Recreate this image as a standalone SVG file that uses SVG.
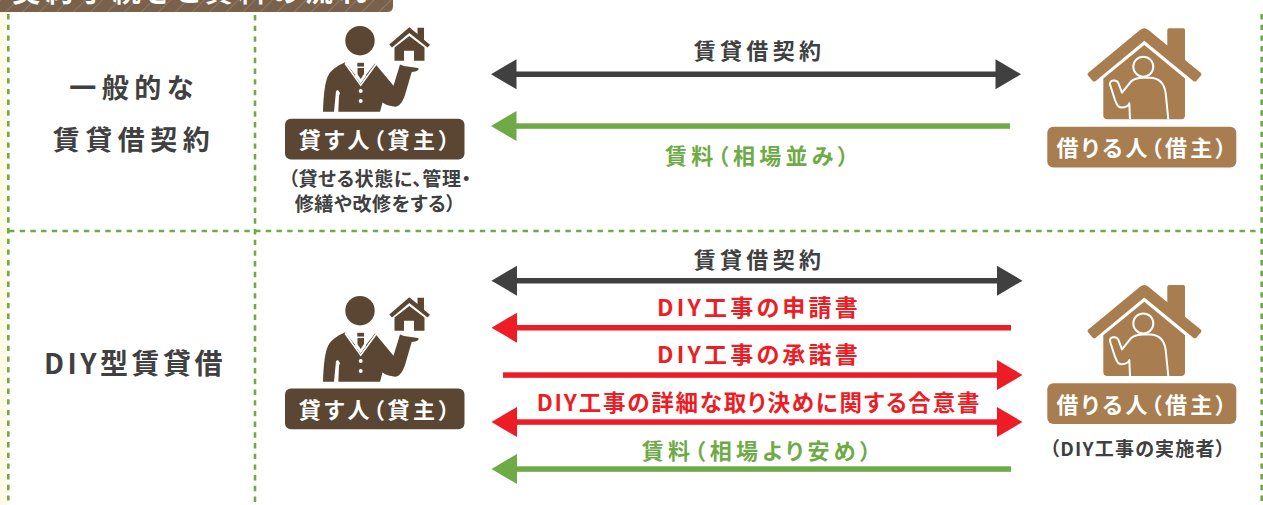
<svg xmlns="http://www.w3.org/2000/svg" width="1263" height="505" viewBox="0 0 1263 505">
<style>
text{font-family:"Noto Sans CJK JP","Noto Sans",sans-serif;font-weight:700;text-anchor:middle;font-feature-settings:"palt"}
.dash{stroke:#6eaa45;stroke-width:2.6;stroke-dasharray:5.4 5.3;fill:none}
.k{fill:#404040}.r{fill:#ee1c25}.g{fill:#6eaa45}.w{fill:#fff}
.t25{font-size:27px;letter-spacing:5.500px}
.t20{font-size:22px;letter-spacing:4.300px}
.t23{font-size:23px;letter-spacing:3.200px}
.t21{font-size:22px;letter-spacing:3.500px}
.t17{font-size:19px;letter-spacing:.6px}
.brown{fill:#5a4632}.tan{fill:#a87d50}
</style>
<defs>
<pattern id="st" width="12" height="12" patternUnits="userSpaceOnUse" patternTransform="rotate(45)">
<rect width="12" height="12" fill="#7a614b"/><rect width="1" height="12" x="0" fill="#8f7a66"/>
</pattern>
<g id="person">
<circle cx="360" cy="40.700" r="14.700" class="brown"/>
<path class="brown" d="M323 111.700C323.500 95 325 82 328 76C331 70 337 66 345 62.300L360.700 81.700L375 63.500L393.500 85.700L400 64.500L404 66L418 68C420 69.500 417 71.500 411.700 72L405 95C402 104 398 107 395 106.700C388 106 382 103 382.700 102L380 111.700H338.300L339 96L340 93L338 90L336 91L334 111.700Z"/>
<path class="w" d="M345.500 62.300L360.700 84L375.500 63.500L376.500 65L360.700 86.500L344.500 64Z"/>
<path class="brown" d="M357.300 62.300H364V66.700H357.300ZM357.300 68H364V74L360.700 79L357.300 74Z"/>
<path fill="#fff" d="M357 62.300h7.500v.7h-7.500zM356.500 66.700h8.500v1.300h-8.500zM355 68h2.300v7.500l3.400 5 3.300-5V68h2v8l-5.300 7.500L355 76Z"/>
<circle cx="360.700" cy="91" r="2" class="w"/><circle cx="360.700" cy="101" r="2" class="w"/>
</g>
<g id="minihouse">
<path class="brown" d="M389.300 44.500L409.300 27.300L417.500 34V27.800H424V39.700L430 44.700L427.500 47.500L409.300 33L392 47.500Z"/>
<path class="brown" d="M409.300 36L424.500 47.500V60.700H414V50.700H404V60.700H394.500V47.500Z"/>
</g>
<g id="tenant">
<path class="tan" d="M1140 30Q1144.300 26.500 1148.500 30L1167.300 45.500V30Q1167.300 28.300 1169 28.300H1183.300Q1185 28.300 1185 30V60L1200.700 72.700Q1202.200 74 1201 75.500L1196.500 80.700Q1195 82.300 1193.300 81L1144.300 40.700L1095.700 81Q1094 82.300 1092.500 80.700L1088 75.500Q1086.800 74 1088.300 72.700Z"/>
<path class="tan" d="M1144.300 45L1185 78.500V115.300Q1185 119.300 1181 119.300H1107.300Q1103.300 119.300 1103.300 115.300V78.500Z"/>
<circle cx="1143.300" cy="66.700" r="10" fill="none" stroke="#fff" stroke-width="2"/>
<path fill="none" stroke="#fff" stroke-width="2" stroke-linejoin="round" d="M1168.300 119.300L1165.700 93.300C1164.500 84 1160 78 1150 77.700H1143.300C1137 77.700 1134 78.500 1131 81.500L1122 92.700L1118.300 83C1116.500 79 1109 80 1110 84.500L1115 100C1117 105 1118 107.500 1121.500 107.500C1126 107.500 1129.300 105 1129.300 103.300L1130 119.300"/>
</g>
<path id="ah" d="M0 0L25.500-15V15Z"/>
</defs>

<rect x="0" y="0" width="1263" height="505" fill="#fff"/>
<rect x="0" y="12" width="7" height="493" fill="#fffbe6"/>

<g id="grid">
<path class="dash" d="M8.300 14V498Q8.300 501 10 505"/>
<path class="dash" d="M255 15V505"/>
<path class="dash" d="M1261.700 14V505"/>
<path class="dash" d="M9 231H1262"/>
</g>

<g id="banner">
<path d="M0 0H393V6Q393 12 387 12H0Z" fill="url(#st)"/>
<text x="192" y="2" class="w" font-size="28" letter-spacing="5.500">契約手続きと賃料の流れ</text>
</g>

<g id="row1-label">
<text x="134" y="98" class="t25 k">一般的な</text>
<text x="134" y="150" class="t25 k">賃貸借契約</text>
</g>
<g id="row2-label">
<text x="135" y="374" class="t25 k" style="font-size:28px;letter-spacing:3.500px">DIY型賃貸借</text>
</g>

<g id="lender1">
<use href="#person"/><use href="#minihouse"/>
<rect x="285" y="118.700" width="179.500" height="40.700" rx="6" class="brown"/>
<text x="376" y="148" class="t21 w">貸す人（貸主）</text>
<text x="380" y="186" class="t17 k">（貸せる状態に、管理・</text>
<text x="375.500" y="211" class="t17 k">修繕や改修をする）</text>
</g>
<g id="lender2">
<use href="#person" y="270"/><use href="#minihouse" y="270"/>
<rect x="285" y="388.500" width="179.500" height="40.700" rx="6" class="brown"/>
<text x="376" y="418" class="t21 w">貸す人（貸主）</text>
</g>
<g id="tenant1">
<use href="#tenant"/>
<rect x="1047.300" y="126.700" width="189" height="40.700" rx="6" class="tan"/>
<text x="1143" y="156" class="t21 w" style="letter-spacing:3.200px">借りる人（借主）</text>
</g>
<g id="tenant2">
<use href="#tenant" y="256.700"/>
<rect x="1047.300" y="383.300" width="189" height="40.700" rx="6" class="tan"/>
<text x="1143" y="413" class="t21 w" style="letter-spacing:3.200px">借りる人（借主）</text>
<text x="1138" y="456" class="t17 k" style="letter-spacing:1.200px">（DIY工事の実施者）</text>
</g>

<g id="connectors">
<rect x="510" y="71.500" width="490" height="5.500" class="k"/>
<use href="#ah" x="491" y="74.300" class="k"/><use href="#ah" transform="translate(1021 74.300) scale(-1 1)" class="k"/>
<rect x="510" y="123.300" width="500" height="5.500" class="g"/>
<use href="#ah" x="491" y="126" class="g"/>

<rect x="510" y="278" width="490" height="5.500" class="k"/>
<use href="#ah" x="491.500" y="280.700" class="k"/><use href="#ah" transform="translate(1022.500 280.700) scale(-1 1)" class="k"/>
<rect x="510" y="325" width="501" height="5.500" class="r"/>
<use href="#ah" x="491.500" y="327.700" class="r"/>
<rect x="503" y="372.300" width="500" height="5.500" class="r"/>
<use href="#ah" transform="translate(1022.500 375) scale(-1 1)" class="r"/>
<rect x="510" y="419.300" width="490" height="5.500" class="r"/>
<use href="#ah" x="491.500" y="422" class="r"/><use href="#ah" transform="translate(1022.500 422) scale(-1 1)" class="r"/>
<rect x="510" y="466.300" width="501" height="5.500" class="g"/>
<use href="#ah" x="491.500" y="469" class="g"/>
</g>
<g id="connector-labels">
<text x="759.500" y="59" class="t20 k">賃貸借契約</text>
<text x="759" y="164" class="t20 g">賃料（相場並み）</text>
<text x="759.500" y="268" class="t20 k">賃貸借契約</text>
<text x="759" y="316" class="t23 r">DIY工事の申請書</text>
<text x="759" y="363" class="t23 r">DIY工事の承諾書</text>
<text x="759" y="411" class="t23 r" style="font-size:22.500px;letter-spacing:1.800px">DIY工事の詳細な取り決めに関する合意書</text>
<text x="758.500" y="459" class="t20 g">賃料（相場より安め）</text>
</g>
</svg>
